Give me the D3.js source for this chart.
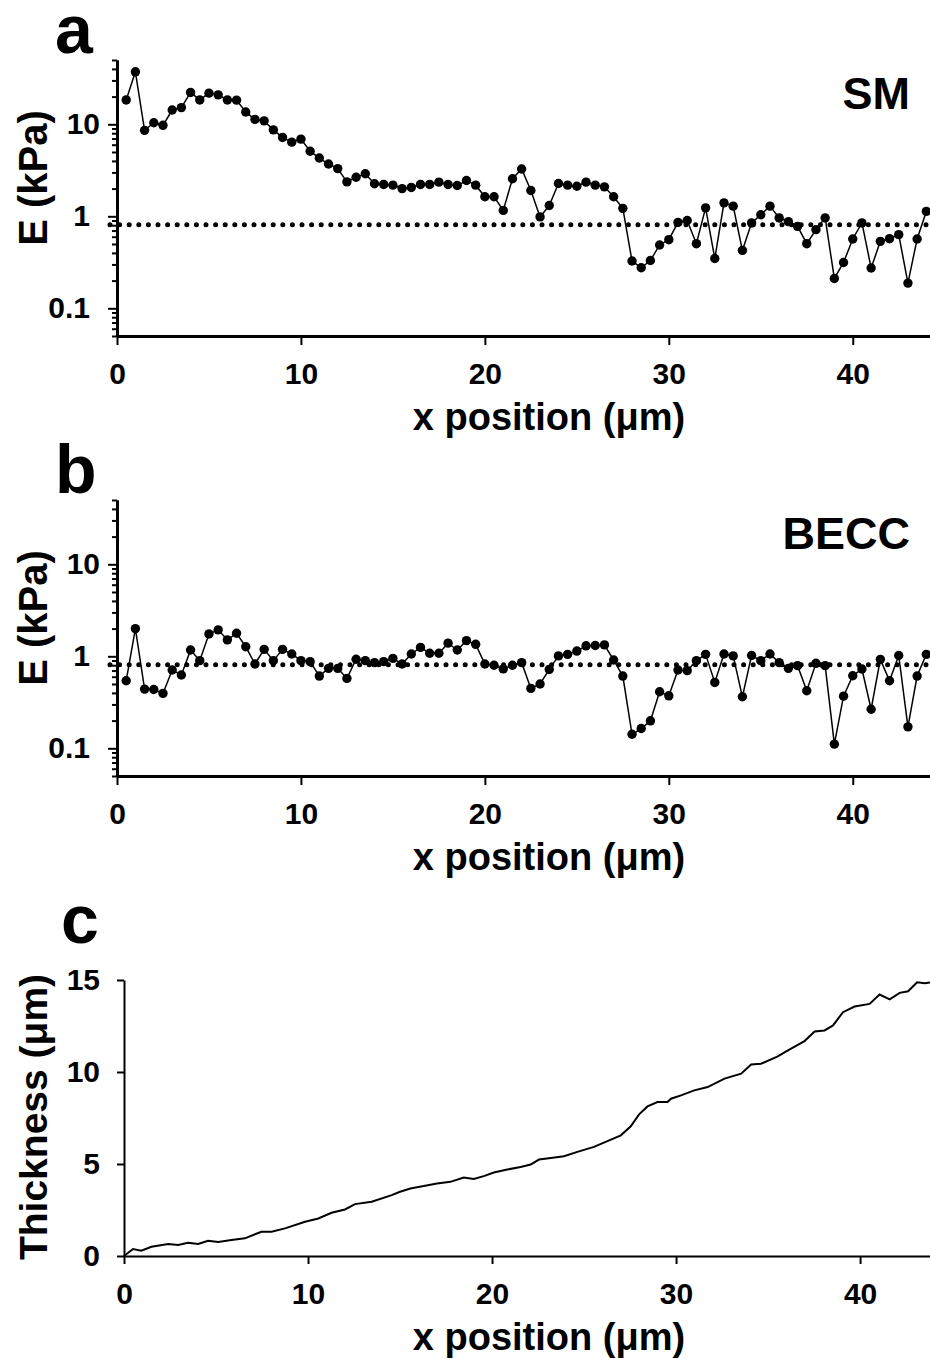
<!DOCTYPE html>
<html>
<head>
<meta charset="utf-8">
<script src="https://cdn.jsdelivr.net/npm/d3@7"></script>
<style>
  body { margin: 0; background: #fff; }
  svg { display: block; font-family: "Liberation Sans", Arial, sans-serif; font-weight: bold; }
</style>
</head>
<body>
<svg id="fig" width="930" height="1359"></svg>
<script>
// sampling positions along x (um) for the stiffness profiles
const posE = [0.5, 1, 1.5, 2, 2.5, 3, 3.5, 4, 4.5, 5, 5.5, 6, 6.5, 7, 7.5, 8, 8.5, 9, 9.5, 10,
  10.5, 11, 11.5, 12, 12.5, 13, 13.5, 14, 14.5, 15, 15.5, 16, 16.5, 17, 17.5, 18, 18.5, 19, 19.5, 20,
  20.5, 21, 21.5, 22, 22.5, 23, 23.5, 24, 24.5, 25, 25.5, 26, 26.5, 27, 27.5, 28, 28.5, 29, 29.5, 30,
  30.5, 31, 31.5, 32, 32.5, 33, 33.5, 34, 34.5, 35, 35.5, 36, 36.5, 37, 37.5, 38, 38.5, 39, 39.5, 40,
  40.5, 41, 41.5, 42, 42.5, 43, 43.5, 44];

// E (kPa), SM
const smE = [18.4, 37.2, 8.6, 10.4, 9.75, 14.3, 15.2, 22.2, 18.4, 21.8,
  20.9, 18.4, 18.3, 13.6, 11.3, 10.9, 8.7, 7.2, 6.4, 6.9,
  5.1, 4.3, 3.7, 3.3, 2.37, 2.66, 2.9, 2.26, 2.22, 2.18,
  2.0, 2.06, 2.22, 2.22, 2.35, 2.22, 2.16, 2.45, 2.18, 1.63,
  1.63, 1.16, 2.56, 3.27, 1.91, 0.985, 1.31, 2.27, 2.18, 2.12,
  2.35, 2.18, 2.09, 1.63, 1.22, 0.327, 0.276, 0.331, 0.488, 0.557,
  0.86, 0.9, 0.504, 1.235, 0.348, 1.4, 1.29, 0.426, 0.847, 1.04,
  1.29, 0.96, 0.875, 0.778, 0.504, 0.716, 0.96, 0.211, 0.315, 0.567,
  0.847, 0.274, 0.534, 0.571, 0.632, 0.188, 0.567, 1.13];

// E (kPa), BECC
const beccE = [0.543, 2.0, 0.44, 0.436, 0.395, 0.71, 0.626, 1.17, 0.897, 1.75,
  1.94, 1.51, 1.78, 1.27, 0.825, 1.19, 0.897, 1.19, 1.06, 0.897,
  0.875, 0.61, 0.74, 0.74, 0.575, 0.93, 0.897, 0.853, 0.875, 0.95,
  0.825, 1.06, 1.25, 1.08, 1.08, 1.39, 1.17, 1.48, 1.35, 0.825,
  0.8, 0.73, 0.8, 0.853, 0.448, 0.5, 0.72, 1.01, 1.05, 1.14,
  1.3, 1.31, 1.33, 0.912, 0.61, 0.142, 0.164, 0.199, 0.412, 0.372,
  0.71, 0.698, 0.897, 1.05, 0.52, 1.06, 1.01, 0.363, 1.02, 0.897,
  1.06, 0.853, 0.74, 0.791, 0.422, 0.839, 0.791, 0.111, 0.369, 0.615,
  0.727, 0.266, 0.927, 0.543, 1.02, 0.171, 0.61, 1.05];

const refE = 0.81; // dotted reference level

// thickness profile
const thickX = [0, 0.49, 0.94, 1.49, 2.4, 2.94, 3.48, 4.03, 4.57, 5.12, 5.84, 6.57, 7.47, 8.02, 8.75,
  9.84, 10.56, 11.28, 12.01, 12.55, 13.46, 14.55, 15.0, 15.56, 16.29, 17.01, 17.74, 18.46, 19.01,
  19.55, 20.1, 20.83, 21.55, 22.1, 22.55, 23.19, 23.91, 24.64, 25.54, 26.27, 27.0, 27.54, 27.99,
  28.45, 28.99, 29.54, 29.72, 30.27, 30.99, 31.72, 32.63, 33.54, 34.08, 34.62, 35.53, 36.08, 36.98,
  37.53, 38.07, 38.53, 39.07, 39.7, 40.52, 41.06, 41.61, 42.15, 42.61, 43.1, 43.51, 43.87];
const thickY = [0, 0.38, 0.29, 0.5, 0.65, 0.6, 0.72, 0.65, 0.83, 0.76, 0.87, 0.96, 1.32, 1.32, 1.5,
  1.86, 2.04, 2.35, 2.53, 2.82, 2.95, 3.31, 3.49, 3.67, 3.8, 3.94, 4.03, 4.27, 4.19,
  4.34, 4.54, 4.7, 4.84, 4.97, 5.24, 5.33, 5.42, 5.66, 5.93, 6.24, 6.56, 7.05, 7.7,
  8.13, 8.37, 8.37, 8.55, 8.73, 9.0, 9.18, 9.64, 9.91, 10.41, 10.45, 10.85, 11.17, 11.68,
  12.2, 12.26, 12.53, 13.25, 13.56, 13.7, 14.21, 13.95, 14.3, 14.39, 14.88, 14.82, 14.88];

const xTicks = [0, 10, 20, 30, 40];
const eMajor = [0.1, 1, 10];
const eMinor = [0.05, 0.06, 0.07, 0.08, 0.09, 0.2, 0.3, 0.4, 0.5, 0.6, 0.7, 0.8, 0.9,
  2, 3, 4, 5, 6, 7, 8, 9, 20, 30, 40, 50];
const thickTicks = [0, 5, 10, 15];

const svg = d3.select("#fig");

function styleAxis(sel, size, width) {
  sel.attr("font-family", null).attr("font-size", size);
  sel.selectAll("path.domain").attr("stroke-width", width);
  sel.selectAll(".tick line").attr("stroke-width", 2);
}

function logPanel(dy, values, letter, name) {
  const g = svg.append("g").attr("transform", `translate(0,${dy})`);
  const x = d3.scaleLinear().domain([0, 44.2]).range([117, 930]);
  const y = d3.scaleLog().domain([0.05, 50]).range([336, 60]);

  g.append("g")
    .attr("transform", "translate(117,0)")
    .call(d3.axisLeft(y).tickValues(eMinor).tickSize(5).tickSizeOuter(0).tickFormat(""))
    .call(s => styleAxis(s, 30, 3));

  g.append("g")
    .attr("transform", "translate(117,0)")
    .call(d3.axisLeft(y).tickValues(eMajor).tickSize(9).tickSizeOuter(0).tickPadding(18).tickFormat(d3.format("")))
    .call(s => styleAxis(s, 30, 3))
    .call(s => s.selectAll(".tick text").filter(d => d === 10).attr("x", -17));

  g.append("g")
    .attr("transform", "translate(0,336)")
    .call(d3.axisBottom(x).tickValues(xTicks).tickSize(9).tickSizeOuter(0).tickPadding(18))
    .call(s => styleAxis(s, 30, 3));

  g.append("line")
    .attr("x1", 110).attr("x2", 930)
    .attr("y1", y(refE)).attr("y2", y(refE))
    .attr("stroke", "#000").attr("stroke-width", 5)
    .attr("stroke-linecap", "round")
    .attr("stroke-dasharray", "0,9.6");

  const pts = posE.map((p, i) => [p, values[i]]);
  g.append("path")
    .datum(pts)
    .attr("fill", "none").attr("stroke", "#000").attr("stroke-width", 1.5)
    .attr("d", d3.line().x(d => x(d[0])).y(d => y(d[1])));

  g.append("g").selectAll("circle")
    .data(pts).enter().append("circle")
    .attr("cx", d => x(d[0])).attr("cy", d => y(d[1]))
    .attr("r", 4.7).attr("fill", "#000");

  g.append("text")
    .attr("transform", "translate(47,178) rotate(-90)")
    .attr("text-anchor", "middle").attr("font-size", 40)
    .text("E (kPa)");

  g.append("text")
    .attr("x", 910).attr("y", 109)
    .attr("text-anchor", "end").attr("font-size", 45)
    .text(name);

  g.append("text")
    .attr("x", 549).attr("y", 430)
    .attr("text-anchor", "middle").attr("font-size", 38)
    .text("x position (μm)");

  g.append("text")
    .attr("x", 55).attr("y", 53)
    .attr("font-size", 68)
    .text(letter);
}

logPanel(0, smE, "a", "SM");
logPanel(440, beccE, "b", "BECC");

// panel c: thickness
const gc = svg.append("g");
const xc = d3.scaleLinear().domain([0, 43.8]).range([124, 930]);
const yc = d3.scaleLinear().domain([0, 15]).range([1256, 980]);

gc.append("g")
  .attr("transform", "translate(124,0)")
  .call(d3.axisLeft(yc).tickValues(thickTicks).tickSize(7).tickSizeOuter(0).tickPadding(17))
  .call(s => styleAxis(s, 30, 2));

gc.append("g")
  .attr("transform", "translate(0,1256)")
  .call(d3.axisBottom(xc).tickValues(xTicks).tickSize(8).tickSizeOuter(0).tickPadding(19))
  .call(s => styleAxis(s, 30, 2));

gc.append("path")
  .datum(thickX.map((v, i) => [v, thickY[i]]))
  .attr("fill", "none").attr("stroke", "#000").attr("stroke-width", 2)
  .attr("d", d3.line().x(d => xc(d[0])).y(d => yc(d[1])));

gc.append("text")
  .attr("transform", "translate(47,1117) rotate(-90)")
  .attr("text-anchor", "middle").attr("font-size", 39)
  .text("Thickness (μm)");

gc.append("text")
  .attr("x", 549).attr("y", 1350)
  .attr("text-anchor", "middle").attr("font-size", 38)
  .text("x position (μm)");

gc.append("text")
  .attr("x", 61).attr("y", 943)
  .attr("font-size", 68)
  .text("c");
</script>
</body>
</html>
